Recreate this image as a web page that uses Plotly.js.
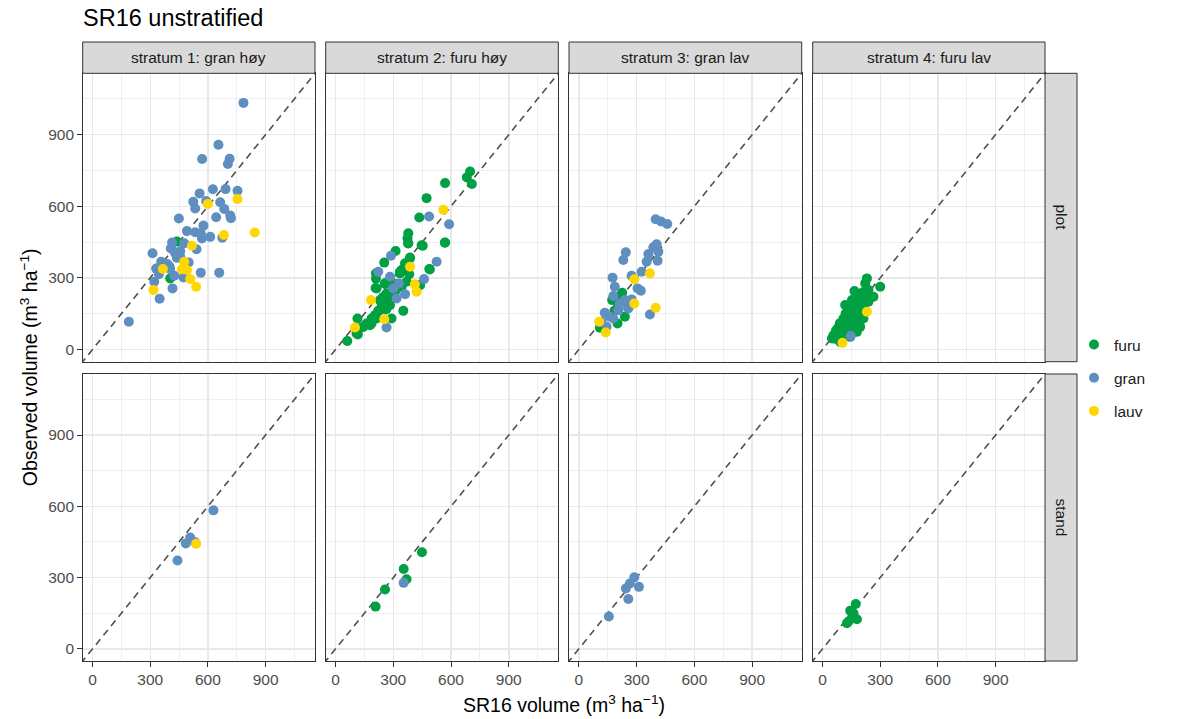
<!DOCTYPE html>
<html>
<head>
<meta charset="utf-8">
<script src="https://cdn.plot.ly/plotly-3.0.1.min.js"></script>
<style>html,body{margin:0;padding:0;background:#fff;}#chart{width:1187px;height:719px;}</style>
</head>
<body>
<div id="chart"></div>
<script>
// ---------------- data ----------------
const speciesNames = ['furu', 'gran', 'lauv'];
const speciesColors = ['#00A043', '#5E8FC0', '#FFD700'];
const strataLabels = ['stratum 1: gran høy', 'stratum 2: furu høy', 'stratum 3: gran lav', 'stratum 4: furu lav'];
const levelLabels = ['plot', 'stand'];
const tickValues = [0, 300, 600, 900];
const identityLine = [-100, 1300];

// stratum 1, plot
const s1_plot_furu_x = [404, 400, 439];
const s1_plot_furu_y = [298, 347, 452];
const s1_plot_gran_x = [785, 655, 570, 713, 704, 626, 692, 754, 557, 524, 591, 664, 534, 685, 449, 643, 716, 720, 577, 491, 534, 563, 612, 675, 569, 414, 477, 541, 312, 407, 456, 439, 357, 500, 331, 345, 390, 425, 473, 563, 659, 321, 416, 349, 189, 404, 456, 430];
const s1_plot_gran_y = [1033, 858, 798, 799, 777, 671, 672, 665, 654, 619, 622, 617, 591, 589, 549, 554, 561, 550, 519, 496, 491, 487, 472, 468, 465, 448, 445, 420, 403, 423, 412, 384, 368, 365, 339, 315, 358, 309, 302, 322, 322, 284, 256, 213, 116, 337, 389, 403];
const s1_plot_lauv_x = [600, 754, 683, 844, 517, 366, 477, 491, 465, 508, 539, 317];
const s1_plot_lauv_y = [610, 630, 480, 490, 435, 337, 368, 333, 336, 295, 263, 249];

// stratum 2, plot
const s2_plot_furu_x = [699, 682, 708, 569, 473, 435, 378, 374, 378, 453, 569, 312, 253, 387, 361, 343, 383, 487, 335, 210, 210, 208, 262, 317, 369, 300, 439, 265, 253, 239, 262, 222, 205, 187, 179, 161, 135, 114, 116, 61, 352, 283, 309, 231, 248, 274, 377, 447, 568, 386, 360, 334, 308, 256, 213, 490, 438, 274, 239, 265, 230, 213, 187, 144, 109, 291, 248, 300, 343];
const s2_plot_furu_y = [746, 721, 693, 697, 634, 553, 487, 466, 445, 435, 448, 413, 364, 385, 361, 333, 315, 337, 319, 319, 297, 258, 280, 270, 284, 249, 270, 235, 214, 193, 168, 162, 144, 130, 102, 109, 92, 130, 63, 36, 162, 186, 242, 207, 179, 207, 444, 437, 447, 381, 346, 325, 276, 276, 256, 335, 269, 235, 199, 172, 165, 130, 109, 95, 67, 130, 220, 256, 262];
const s2_plot_gran_x = [486, 590, 288, 222, 283, 525, 460, 329, 317, 361, 265, 300];
const s2_plot_gran_y = [557, 525, 393, 326, 305, 368, 295, 277, 214, 232, 92, 256];
const s2_plot_lauv_x = [560, 387, 412, 421, 184, 253, 101];
const s2_plot_lauv_y = [585, 347, 273, 242, 207, 127, 92];

// stratum 3, plot
const s3_plot_furu_x = [205, 225, 185, 257, 239, 201, 109, 173];
const s3_plot_furu_y = [221, 238, 162, 175, 137, 109, 91, 207];
const s3_plot_gran_x = [399, 427, 459, 404, 387, 413, 361, 409, 352, 244, 231, 326, 274, 175, 187, 305, 322, 179, 239, 274, 213, 135, 161, 118, 144, 369, 257, 205, 179];
const s3_plot_gran_y = [546, 536, 526, 441, 428, 410, 400, 372, 368, 407, 375, 326, 309, 301, 263, 256, 246, 224, 207, 210, 193, 154, 137, 116, 95, 147, 172, 165, 130];
const s3_plot_lauv_x = [369, 288, 399, 288, 106, 140];
const s3_plot_lauv_y = [319, 294, 175, 193, 116, 71];

// stratum 4, plot
const s4_plot_furu_x = [231, 222, 300, 166, 239, 206, 265, 196, 239, 170, 213, 135, 187, 109, 170, 213, 92, 153, 196, 75, 135, 179, 57, 101, 144, 49, 92, 153, 118, 126, 161, 60, 70, 85, 95, 100, 110, 120, 115, 125, 130, 140, 145, 150, 160, 165, 175, 180, 185, 190, 200, 205, 210, 215, 220, 180, 170, 160, 150, 140, 130, 120, 110, 100, 90, 80, 70, 65, 80, 95, 120, 130, 140, 155, 170, 190, 200, 225, 210, 195, 185];
const s4_plot_furu_y = [298, 277, 263, 245, 249, 228, 221, 200, 200, 179, 172, 158, 151, 130, 130, 130, 102, 102, 95, 81, 74, 74, 60, 53, 53, 46, 32, 207, 186, 116, 144, 55, 65, 75, 90, 70, 85, 100, 120, 110, 125, 115, 140, 125, 135, 155, 160, 145, 170, 185, 180, 195, 210, 190, 205, 190, 205, 175, 160, 165, 140, 150, 120, 105, 110, 90, 80, 45, 60, 55, 70, 90, 100, 110, 120, 150, 165, 225, 240, 230, 215];
const s4_plot_gran_x = [147];
const s4_plot_gran_y = [57];
const s4_plot_lauv_x = [231, 104];
const s4_plot_lauv_y = [158, 28];

// stand level
const s1_stand_furu_x = [];
const s1_stand_furu_y = [];
const s1_stand_gran_x = [629, 508, 485, 534, 442];
const s1_stand_gran_y = [583, 469, 444, 449, 372];
const s1_stand_lauv_x = [539];
const s1_stand_lauv_y = [442];
const s2_stand_furu_x = [449, 354, 369, 257, 208];
const s2_stand_furu_y = [407, 336, 293, 250, 178];
const s2_stand_gran_x = [354];
const s2_stand_gran_y = [278];
const s2_stand_lauv_x = [];
const s2_stand_lauv_y = [];
const s3_stand_furu_x = [];
const s3_stand_furu_y = [];
const s3_stand_gran_x = [288, 265, 244, 312, 257, 156];
const s3_stand_gran_y = [301, 275, 254, 261, 210, 136];
const s3_stand_lauv_x = [];
const s3_stand_lauv_y = [];
const s4_stand_furu_x = [173, 144, 179, 127, 153, 161, 135];
const s4_stand_furu_y = [189, 161, 125, 108, 130, 150, 115];
const s4_stand_gran_x = [];
const s4_stand_gran_y = [];
const s4_stand_lauv_x = [];
const s4_stand_lauv_y = [];

// ---------------- assembly ----------------
const panelData = [
  [ // plot row
    [[s1_plot_furu_x, s1_plot_furu_y], [s1_plot_gran_x, s1_plot_gran_y], [s1_plot_lauv_x, s1_plot_lauv_y]],
    [[s2_plot_furu_x, s2_plot_furu_y], [s2_plot_gran_x, s2_plot_gran_y], [s2_plot_lauv_x, s2_plot_lauv_y]],
    [[s3_plot_furu_x, s3_plot_furu_y], [s3_plot_gran_x, s3_plot_gran_y], [s3_plot_lauv_x, s3_plot_lauv_y]],
    [[s4_plot_furu_x, s4_plot_furu_y], [s4_plot_gran_x, s4_plot_gran_y], [s4_plot_lauv_x, s4_plot_lauv_y]]
  ],
  [ // stand row
    [[s1_stand_furu_x, s1_stand_furu_y], [s1_stand_gran_x, s1_stand_gran_y], [s1_stand_lauv_x, s1_stand_lauv_y]],
    [[s2_stand_furu_x, s2_stand_furu_y], [s2_stand_gran_x, s2_stand_gran_y], [s2_stand_lauv_x, s2_stand_lauv_y]],
    [[s3_stand_furu_x, s3_stand_furu_y], [s3_stand_gran_x, s3_stand_gran_y], [s3_stand_lauv_x, s3_stand_lauv_y]],
    [[s4_stand_furu_x, s4_stand_furu_y], [s4_stand_gran_x, s4_stand_gran_y], [s4_stand_lauv_x, s4_stand_lauv_y]]
  ]
];

const W = 1187, H = 719;
const FONT = 'Liberation Sans, Arial, Helvetica, sans-serif';
const colPx = [[82.7, 315], [325.7, 558.3], [569, 801.7], [812.7, 1045]];
const rowPx = [[73.3, 361.7], [374, 661]];
const axisRange = [-51, 1157];
const stripTop = 42, stripRight = 1077;

const traces = [];
const layout = {
  width: W, height: H,
  margin: {l: 0, r: 0, t: 0, b: 0},
  paper_bgcolor: '#fff', plot_bgcolor: '#fff',
  font: {family: FONT, color: '#000'},
  showlegend: true,
  legend: {
    x: 1074 / W, xanchor: 'left', y: 1 - 328 / H, yanchor: 'top',
    font: {size: 15.5, family: FONT, color: '#1A1A1A'},
    tracegroupgap: 10, bgcolor: 'rgba(0,0,0,0)'
  },
  shapes: [], annotations: []
};

function axisCfg(domain, anchor, showLabels) {
  return {
    domain: domain, anchor: anchor, range: axisRange,
    tickmode: 'array', tickvals: tickValues, ticktext: tickValues.map(String),
    showticklabels: showLabels,
    ticks: showLabels ? 'outside' : '', ticklen: 4.5, tickwidth: 1, tickcolor: '#333333',
    tickfont: {size: 15.5, color: '#4D4D4D', family: FONT},
    showgrid: true, gridcolor: '#E8E8E8', gridwidth: 1.4,
    minor: {tickmode: 'array', tickvals: [150, 450, 750, 1050], showgrid: true, gridcolor: '#EBEBEB', gridwidth: 0.8, ticks: ''},
    zeroline: false, showline: true, mirror: true, linecolor: '#333333', linewidth: 1,
    fixedrange: true
  };
}

let idx = 0;
for (let r = 0; r < 2; r++) {
  for (let c = 0; c < 4; c++) {
    idx++;
    const xa = idx === 1 ? 'x' : 'x' + idx;
    const ya = idx === 1 ? 'y' : 'y' + idx;
    const xKey = idx === 1 ? 'xaxis' : 'xaxis' + idx;
    const yKey = idx === 1 ? 'yaxis' : 'yaxis' + idx;
    const xd = [colPx[c][0] / W, colPx[c][1] / W];
    const yd = [1 - rowPx[r][1] / H, 1 - rowPx[r][0] / H];
    layout[xKey] = axisCfg(xd, ya, r === 1);
    layout[yKey] = axisCfg(yd, xa, c === 0);

    // identity line
    traces.push({
      x: identityLine, y: identityLine, xaxis: xa, yaxis: ya,
      mode: 'lines', line: {color: '#505050', width: 1.6, dash: '7px,5px'},
      showlegend: false, hoverinfo: 'skip'
    });
    for (let s = 0; s < 3; s++) {
      const d = panelData[r][c][s];
      traces.push({
        x: d[0], y: d[1], xaxis: xa, yaxis: ya,
        type: 'scatter', mode: 'markers', name: speciesNames[s],
        legendgroup: speciesNames[s],
        showlegend: (r === 0 && c === 0),
        marker: {color: speciesColors[s], size: 10, line: {width: 0}}
      });
    }
  }
}

// top strips
for (let c = 0; c < 4; c++) {
  layout.shapes.push({
    type: 'rect', xref: 'paper', yref: 'paper',
    x0: colPx[c][0] / W, x1: colPx[c][1] / W,
    y0: 1 - rowPx[0][0] / H, y1: 1 - stripTop / H,
    fillcolor: '#D9D9D9', line: {color: '#333333', width: 1}
  });
  layout.annotations.push({
    xref: 'paper', yref: 'paper', showarrow: false,
    x: (colPx[c][0] + colPx[c][1]) / 2 / W, y: 1 - (stripTop + rowPx[0][0]) / 2 / H,
    xanchor: 'center', yanchor: 'middle',
    text: strataLabels[c], font: {size: 15.5, color: '#1A1A1A', family: FONT}
  });
}
// right strips
for (let r = 0; r < 2; r++) {
  layout.shapes.push({
    type: 'rect', xref: 'paper', yref: 'paper',
    x0: colPx[3][1] / W, x1: stripRight / W,
    y0: 1 - rowPx[r][1] / H, y1: 1 - rowPx[r][0] / H,
    fillcolor: '#D9D9D9', line: {color: '#333333', width: 1}
  });
  layout.annotations.push({
    xref: 'paper', yref: 'paper', showarrow: false,
    x: (colPx[3][1] + stripRight) / 2 / W, y: 1 - (rowPx[r][0] + rowPx[r][1]) / 2 / H,
    xanchor: 'center', yanchor: 'middle', textangle: 90,
    text: levelLabels[r], font: {size: 15.5, color: '#1A1A1A', family: FONT}
  });
}

// title and axis titles
layout.annotations.push({
  xref: 'paper', yref: 'paper', showarrow: false,
  x: 81 / W, y: 1 - 18 / H, xanchor: 'left', yanchor: 'middle',
  text: 'SR16 unstratified', font: {size: 23.5, color: '#000', family: FONT}
});
layout.annotations.push({
  xref: 'paper', yref: 'paper', showarrow: false,
  x: (colPx[0][0] + colPx[3][1]) / 2 / W, y: 1 - 704 / H, xanchor: 'center', yanchor: 'middle',
  text: 'SR16 volume (m<sup>3</sup> ha<sup>−1</sup>)', font: {size: 19.5, color: '#000', family: FONT}
});
layout.annotations.push({
  xref: 'paper', yref: 'paper', showarrow: false,
  x: 29 / W, y: 1 - (rowPx[0][0] + rowPx[1][1]) / 2 / H, xanchor: 'center', yanchor: 'middle',
  textangle: -90,
  text: 'Observed volume (m<sup>3</sup> ha<sup>−1</sup>)', font: {size: 19.5, color: '#000', family: FONT}
});

Plotly.newPlot('chart', traces, layout, {displayModeBar: false, staticPlot: true});
</script>
</body>
</html>
